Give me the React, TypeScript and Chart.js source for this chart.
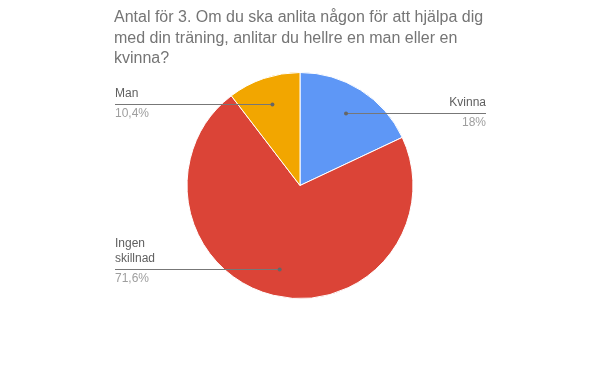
import React, { useEffect, useRef } from "react";
import { Chart, registerables } from "chart.js";

Chart.register(...registerables);

const titleLines = [
  "Antal för 3. Om du ska anlita någon för att hjälpa dig",
  "med din träning, anlitar du hellre en man eller en",
  "kvinna?",
];
const categories = ["Kvinna", "Ingen skillnad", "Man"];
const values = [18, 71.6, 10.4];
const colors = ["#5e97f6", "#db4437", "#f2a600"];

const fmtPct = (v: number) => {
  const total = values.reduce((a, b) => a + b, 0);
  const p = Math.round((v / total) * 1000) / 10;
  return (Number.isInteger(p) ? String(p) : p.toFixed(1).replace(".", ",")) + "%";
};

const wrap = (ctx: CanvasRenderingContext2D, text: string, maxW: number) => {
  const words = text.split(" ");
  const lines: string[] = [];
  let cur = "";
  for (const w of words) {
    const t = cur ? cur + " " + w : w;
    if (cur && ctx.measureText(t).width > maxW) {
      lines.push(cur);
      cur = w;
    } else cur = t;
  }
  if (cur) lines.push(cur);
  return lines;
};

const labelPlugin = {
  id: "pieLabels",
  afterDraw(chart: any) {
    const ctx: CanvasRenderingContext2D = chart.ctx;
    ctx.save();
    // title
    ctx.font = "16px Arial, 'Liberation Sans', sans-serif";
    ctx.fillStyle = "#757575";
    ctx.textAlign = "left";
    ctx.textBaseline = "alphabetic";
    titleLines.forEach((l, i) => ctx.fillText(l, 114, 22 + i * 20.5));

    const meta = chart.getDatasetMeta(0);
    meta.data.forEach((arc: any, i: number) => {
      const mid = (arc.startAngle + arc.endAngle) / 2;
      const r = arc.outerRadius * 0.76;
      const px = arc.x + Math.cos(mid) * r;
      const py = arc.y + Math.sin(mid) * r;
      const right = Math.cos(mid) >= 0;
      const edge = right ? 486 : 115;
      ctx.strokeStyle = "#777777";
      ctx.lineWidth = 1;
      ctx.beginPath();
      ctx.moveTo(edge, Math.round(py) + 0.5);
      ctx.lineTo(px, Math.round(py) + 0.5);
      ctx.stroke();
      ctx.fillStyle = "#666666";
      ctx.beginPath();
      ctx.arc(px, Math.round(py) + 0.5, 2, 0, Math.PI * 2);
      ctx.fill();

      ctx.font = "12px Arial, 'Liberation Sans', sans-serif";
      ctx.textAlign = right ? "right" : "left";
      ctx.textBaseline = "middle";
      const lines = wrap(ctx, categories[i], 60);
      ctx.fillStyle = "#5f5f5f";
      lines.forEach((l, j) => {
        ctx.fillText(l, edge, py - 10 - (lines.length - 1 - j) * 15);
      });
      ctx.fillStyle = "#9e9e9e";
      ctx.fillText(fmtPct(values[i]), edge, py + 10);
    });
    ctx.restore();
  },
};

export default function App() {
  const ref = useRef<HTMLCanvasElement>(null);
  useEffect(() => {
    document.body.style.margin = "0";
    const chart = new Chart(ref.current!, {
      type: "pie",
      data: {
        labels: categories,
        datasets: [
          {
            data: values,
            backgroundColor: colors,
            borderColor: "#ffffff",
            borderWidth: 1,
          },
        ],
      },
      options: {
        responsive: false,
        animation: false,
        layout: { padding: { top: 72, bottom: 72, left: 0, right: 0 } },
        plugins: { legend: { display: false }, tooltip: { enabled: false } },
      },
      plugins: [labelPlugin],
    });
    return () => chart.destroy();
  }, []);
  return <canvas ref={ref} width={600} height={371} style={{ display: "block" }} />;
}
